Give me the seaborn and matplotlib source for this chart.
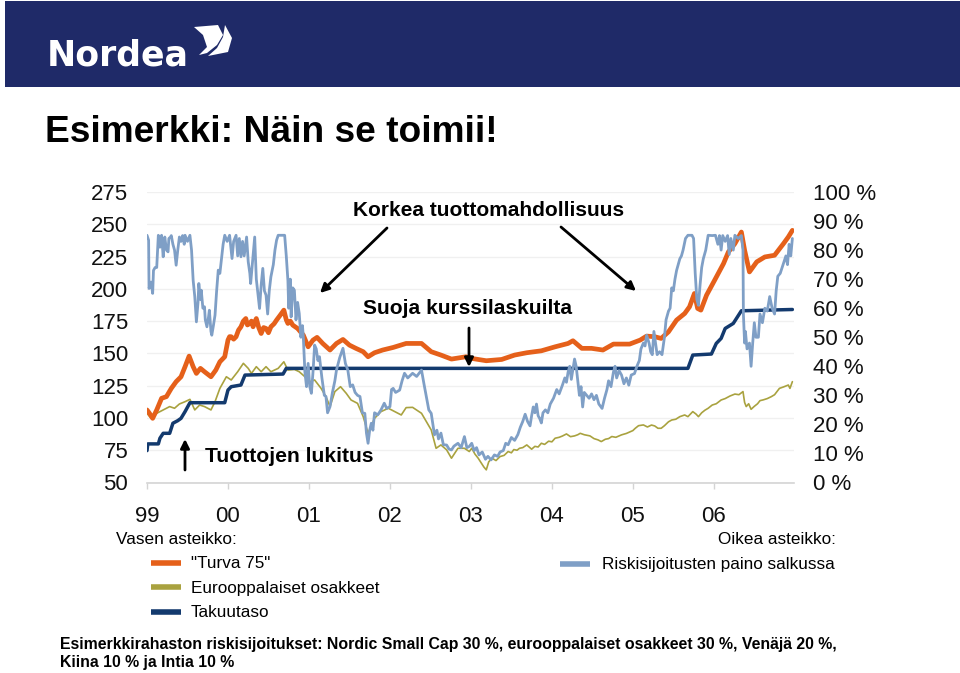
import matplotlib
matplotlib.use("Agg")
import matplotlib.pyplot as plt
from matplotlib.lines import Line2D
from matplotlib.patches import Polygon, Rectangle
import pandas as pd
import seaborn as sns

# x values are years since the start of 1999
x_turva = [0,.03,.07,.12,.18,.24,.30,.36,.42,.47,.52,.57,.61,.66,.71,.79,.85,.90,.96,
           1.00,1.02,1.04,1.07,1.10,1.13,1.16,1.19,1.22,1.24,1.27,1.29,1.31,1.33,1.35,1.38,1.41,1.44,1.47,1.50,1.53,1.57,1.60,1.65,1.69,1.72,1.74,1.77,1.80,
           1.86,1.93,1.99,2.05,2.10,2.17,2.26,2.34,2.42,2.50,2.58,2.67,2.73,2.81,2.91,3.04,3.20,3.39,3.51,3.63,3.76,3.94,
           4.01,4.19,4.38,4.54,4.69,4.87,5.04,5.20,5.26,5.37,5.49,5.63,5.76,5.86,5.96,6.09,6.17,6.27,6.35,6.44,6.54,6.64,6.70,6.76,6.80,6.84,6.91,7.01,7.12,7.18,7.26,7.34,7.38,7.44,7.53,7.63,7.75,7.86,7.92,7.97]
y_turva = [106.2,103.6,99.7,106.2,115.2,116.5,122.9,128.1,131.9,139.7,147.9,139.7,134.5,138.4,135.8,131.9,137.1,143.5,147.4,
           160.3,163,162.9,161,162.9,168,170.6,175,177,172,173.2,175,170.6,174,177,170,165.4,170,169.3,166,170.6,173,175.8,180,183.5,176,173.2,175,171.9,
           169.3,164.2,155.1,160.3,162.4,157.7,152.6,157.7,160.8,156.4,153.9,151.3,147.4,150.5,152.6,154.6,157.7,157.7,151.3,148.7,145.6,147.4,
           146.1,144.3,145.3,148.7,150.5,152,155.1,157.7,159.8,153.9,153.9,152.6,157.2,157.2,157.2,160.3,163.4,162.9,161.6,166.7,175.8,180.9,186.1,196.4,184.8,183.5,195.1,206.7,219.6,228.6,235,244,229.9,213.1,220.9,224.7,226,235,240.2,245.3]

x_euro = [0,.05,.12,.20,.28,.34,.40,.47,.53,.59,.65,.71,.79,.84,.90,.98,1.04,1.12,1.19,1.25,1.29,1.35,1.41,1.47,1.53,1.62,1.69,1.74,1.82,1.88,1.95,2.01,2.07,2.15,2.21,2.26,2.32,2.39,2.46,2.52,2.60,2.67,2.73,2.81,2.89,2.98,3.06,3.14,3.20,3.28,3.39,3.45,3.51,3.57,3.63,3.70,3.76,3.84,3.92,3.98,
          4.01,4.05,4.09,4.13,4.16,4.19,4.22,4.26,4.31,4.36,4.41,4.46,4.50,4.53,4.57,4.60,4.64,4.69,4.75,4.79,4.83,4.87,4.91,4.96,5.00,5.04,5.09,5.13,5.18,5.23,5.28,5.32,5.35,5.40,5.47,5.52,5.57,5.61,5.66,5.70,5.74,5.79,5.86,5.92,6.00,6.03,6.07,6.13,6.18,6.23,6.27,6.31,6.35,6.39,6.44,6.48,6.53,6.58,6.64,6.68,6.74,6.78,6.81,6.85,6.89,6.93,6.98,7.03,7.09,7.14,7.20,7.26,7.31,7.36,7.38,7.40,7.43,7.46,7.50,7.54,7.57,7.61,7.66,7.71,7.75,7.81,7.86,7.92,7.94,7.97]
y_euro = [103.6,99.7,103.6,106.2,108.8,107.5,110.8,112.6,114.4,106.2,110,108.8,106.2,112.6,122.9,131.9,129.4,135.8,142.3,138.4,134.5,139.7,135.8,139.7,135.8,138.4,143.5,137.1,137.6,135.8,131.9,128.1,129.4,122.9,116.5,108.8,120.4,124.2,119.1,113.9,111.3,101,88.1,99.7,104.9,107.5,104.9,102.3,108,108.2,103.6,97.2,90.7,76.5,79.1,75.3,68.8,76.5,76.5,74,
          76.5,72,68.8,65,62,59.8,66,68.8,67,70.1,71,74,73,75.5,75,76.5,77,79.1,75.8,78,77.5,80.4,79.5,82,81.5,84.3,85,86,87.6,85.5,86.1,87,88.1,87,86.1,84,83,81.7,83.5,84,85.6,85,86.9,88,90.2,92,94,94.6,93,94.5,93.8,92,92,94,97,98.4,99,101,102.3,101,104.9,103,101,104,106,107.5,110,111,113.9,115,117,118.5,118,120.4,112,108.8,111,106.7,109,111,113.4,114,115,116.5,118,122.9,124,125.5,122.9,128.1]

x_taku = [0,.01,.14,.16,.20,.28,.32,.38,.42,.47,.53,.96,1.00,1.04,1.16,1.21,1.68,1.72,6.68,6.74,6.97,7.03,7.09,7.14,7.24,7.34,7.97]
y_taku = [74.7,79.9,79.9,84.3,88.1,88.1,95.9,97.9,99.7,104.9,111.8,111.8,121.6,124.2,125.5,133.2,134,138.4,138.4,148.7,149.5,157.7,161.6,169.3,173.2,183,184]

x_riski = [0,.02,.025,.05,.07,.08,.10,.12,.14,.16,.18,.20,.21,.22,.24,.26,.27,.29,.30,.32,.34,.36,.38,.40,.42,.44,.46,.47,.50,.53,.55,.57,.59,.61,.63,.64,.66,.67,.69,.71,.72,.74,.76,.77,.79,.80,.82,.84,.86,.88,.90,.92,.94,.96,.99,
           1.02,1.04,1.05,1.07,1.10,1.12,1.14,1.16,1.18,1.20,1.23,1.25,1.27,1.28,1.30,1.33,1.35,1.37,1.39,1.41,1.43,1.45,1.47,1.49,1.51,1.53,1.56,1.58,1.60,1.62,1.70,1.72,1.74,1.75,1.77,1.78,1.80,1.82,1.84,1.86,1.88,1.90,1.92,1.93,1.95,1.97,1.99,
           2.01,2.03,2.05,2.07,2.09,2.11,2.13,2.16,2.19,2.21,2.23,2.26,2.29,2.32,2.34,2.38,2.42,2.45,2.48,2.51,2.54,2.57,2.60,2.63,2.66,2.69,2.71,2.73,2.75,2.77,2.79,2.81,2.85,2.89,2.93,2.96,
           3.00,3.02,3.04,3.07,3.12,3.15,3.18,3.22,3.28,3.33,3.39,3.42,3.45,3.48,3.51,3.53,3.55,3.58,3.60,3.63,3.66,3.70,3.73,3.76,3.79,3.84,3.88,3.92,3.95,3.98,
           4.01,4.04,4.07,4.10,4.14,4.18,4.21,4.25,4.29,4.33,4.36,4.40,4.43,4.46,4.50,4.54,4.58,4.61,4.64,4.67,4.70,4.73,4.75,4.77,4.79,4.81,4.83,4.85,4.87,4.89,4.92,4.95,4.98,
           5.02,5.06,5.09,5.13,5.16,5.18,5.20,5.22,5.24,5.26,5.28,5.30,5.32,5.34,5.36,5.38,5.40,5.43,5.46,5.49,5.52,5.55,5.58,5.62,5.65,5.68,5.70,5.73,5.76,5.78,5.80,5.83,5.86,5.89,5.92,5.95,5.98,
           6.02,6.05,6.08,6.10,6.13,6.15,6.17,6.20,6.22,6.24,6.26,6.28,6.30,6.33,6.36,6.39,6.41,6.44,6.46,6.48,6.50,6.52,6.54,6.56,6.58,6.60,6.62,6.65,6.68,6.73,6.75,6.77,6.79,6.81,6.83,6.85,6.87,6.90,6.93,6.98,
           7.02,7.05,7.07,7.09,7.11,7.14,7.17,7.19,7.21,7.24,7.26,7.30,7.34,7.36,7.365,7.38,7.39,7.41,7.44,7.46,7.48,7.50,7.52,7.55,7.57,7.60,7.63,7.66,7.69,7.72,7.75,7.77,7.79,7.82,7.86,7.89,7.91,7.93,7.95,7.97]
y_riski = [85.1,83.4,66.8,69,65.1,73,74,74,85.1,81,85.1,77.7,82,84.5,80,79.4,84,84.5,85,82,80,74.8,80,84.5,83,85,82,85.1,83,85.1,80,69.6,64,55.3,62,68.5,63,66.2,60,60.5,56,53.6,57,59.3,52,50.7,54,57.6,66,73.1,72,77.1,82,85.1,83,
           85.1,80,77.1,83,85.1,78,84,77.7,83,78,84.5,76,72,68.5,75,84.5,70,65,59.9,68,73.7,66,64.5,58,66,70.8,75,80,83.4,85.1,85.1,78,69.6,60,70,57,67,66.2,56,62,58.2,50,54,50.2,38,33,41,
           33,30.7,38,47.3,46,42,43.3,36,30,29.6,24,26.1,31,35,38.7,43,46.2,41,38.7,33,33.6,31,30,29.6,24,23.8,17,13.5,18,20.4,18,24,23.3,25,27.3,25.5,
           26.1,32,32.4,31,31.8,35,37.6,36,37.6,36.5,38.7,34,29.6,25,23.8,20,16.4,18,15,17,13,12.9,11.5,11.2,12.5,13.5,12,15.8,12,12.4,
           13.5,11,12,9.5,10.5,8,9,7.8,9.5,9,10.5,11,13.5,13,15.5,14.5,16.5,19,21,23.5,21,19.5,23,26,24,27,23,22,20.5,24,25,24,27,
           29,32,30.5,33.5,36,34.5,38,40,35.5,39,42.5,40,35,30,33,26,31,30,29,30.5,28.5,30,27,25.5,29,32,35,33,38,40,36,38.5,37,34,36,33.5,37,
           37.5,40,42,46,48,47,50.7,48,45,44,52,48,44,45,44,50,56,59,60,67,66,70,73,75,77,78,80,84,85.1,85.1,84,72,63,61,68,74,77,80,85.1,85,
           85.1,82,85,80,85,83,85,78.5,84,80,85.1,84,85,80,58,48,52,46,48,40,48,55,50,50,58,55,60,59,64,60,58,66,71,72,75.5,78,75,82,78,84]

year_ticks = [0, 1, 2, 3, 4, 5, 6, 7]
year_labels = ["99", "00", "01", "02", "03", "04", "05", "06"]
left_ticks = [50, 75, 100, 125, 150, 175, 200, 225, 250, 275]
right_ticks = [0, 10, 20, 30, 40, 50, 60, 70, 80, 90, 100]

ORANGE, OLIVE, NAVY, BLUE = "#E5601A", "#A9A23F", "#133A6E", "#7F9FC6"
W, H = 960, 673
FONT = "Liberation Sans"

sns.set_theme(style="white", rc={"font.family": FONT})
fig = plt.figure(figsize=(W / 100, H / 100), dpi=100, facecolor="white")

def fx(px): return px / W
def fy(py): return 1 - py / H

ax = fig.add_axes([fx(147), fy(482.5), fx(794) - fx(147), (482.5 - 192) / H])
ax.set_xlim(0, 7.99)
ax.set_ylim(50, 275)
ax.set_facecolor("none")

sns.lineplot(data=pd.DataFrame({"x": x_euro, "y": y_euro}), x="x", y="y", ax=ax, estimator=None, sort=False,
             color=OLIVE, lw=1.2, errorbar=None)
sns.lineplot(data=pd.DataFrame({"x": x_taku, "y": y_taku}), x="x", y="y", ax=ax, estimator=None, sort=False,
             color=NAVY, lw=2.5, errorbar=None)
sns.lineplot(data=pd.DataFrame({"x": x_turva, "y": y_turva}), x="x", y="y", ax=ax, estimator=None, sort=False,
             color=ORANGE, lw=3.4, errorbar=None)

ax.set_xticks(year_ticks, year_labels)
ax.set_yticks(left_ticks)
ax.set_xlabel("")
ax.set_ylabel("")
ax.grid(axis="y", color="#f0f0f0", lw=1)
ax.set_axisbelow(True)
for s in ("top", "left", "right"):
    ax.spines[s].set_visible(False)
ax.spines["bottom"].set_color("#d4d4d4")
ax.spines["bottom"].set_linewidth(1.2)
ax.tick_params(axis="x", length=4, width=1, color="#d4d4d4", labelsize=16, pad=13, labelcolor="#111111", bottom=True)
ax.tick_params(axis="y", length=0, labelsize=16, pad=13.5, labelcolor="#111111")

ax2 = ax.twinx()
ax2.set_ylim(0, 100)
sns.lineplot(data=pd.DataFrame({"x": x_riski, "y": y_riski}), x="x", y="y", ax=ax2, estimator=None, sort=False,
             color=BLUE, lw=2.0, errorbar=None)
ax2.set_yticks(right_ticks, [f"{v} %" for v in right_ticks])
ax2.set_ylabel("")
ax2.grid(False)
for s in ax2.spines.values():
    s.set_visible(False)
ax2.tick_params(axis="y", length=0, labelsize=16, pad=13.5, labelcolor="#111111")

# Header band, logo and title
fig.add_artist(Rectangle((fx(5), fy(87)), fx(955), 86 / H, transform=fig.transFigure, color="#1F2A68", lw=0))
fig.text(fx(47), fy(65), "Nordea", fontsize=25, color="white", family="DejaVu Sans", fontweight="bold", va="baseline")
for poly in ([(194, 27), (218, 25), (223, 35), (217, 45), (207, 53), (199, 55), (207, 47), (203, 35)],
             [(225, 25), (232, 38), (228, 52), (208, 56), (217, 48), (223, 37)]):
    fig.add_artist(Polygon([(fx(a), fy(b)) for a, b in poly], closed=True, transform=fig.transFigure, color="white", lw=0))
fig.text(fx(45), fy(133), "Esimerkki: Näin se toimii!", fontsize=26.7, fontweight="bold", color="black", va="center")

# Annotations
def label(px, py, s, **kw):
    fig.text(fx(px), fy(py), s, va="center", color="black", **kw)

label(353, 210, "Korkea tuottomahdollisuus", fontsize=15.05, fontweight="bold")
label(363, 309, "Suoja kurssilaskuilta", fontsize=15.15, fontweight="bold")
label(205, 457, "Tuottojen lukitus", fontsize=15.25, fontweight="bold")

def arrow(a, b):
    ax2.annotate("", xy=(fx(b[0]), fy(b[1])), xytext=(fx(a[0]), fy(a[1])), xycoords="figure fraction",
                 textcoords="figure fraction", arrowprops=dict(arrowstyle="-|>", color="black", lw=2, shrinkA=0, shrinkB=0, mutation_scale=13))

arrow((387, 228), (320, 293))
arrow((561, 227), (636, 291))
arrow((469, 328), (469, 367))
arrow((185, 470), (185, 439))

# Legend
label(116, 540, "Vasen asteikko:", fontsize=12.4)
for py, ty, colour, name in ((562.5, 563.5, ORANGE, '"Turva 75"'), (586.5, 588, OLIVE, "Eurooppalaiset osakkeet"), (611.5, 612.5, NAVY, "Takuutaso")):
    fig.add_artist(Line2D([fx(151), fx(181)], [fy(py), fy(py)], transform=fig.transFigure, color=colour, lw=4, solid_capstyle="butt"))
    label(191, ty, name, fontsize=12.3)
label(718, 539, "Oikea asteikko:", fontsize=12.3)
fig.add_artist(Line2D([fx(560), fx(590)], [fy(564), fy(564)], transform=fig.transFigure, color=BLUE, lw=4, solid_capstyle="butt"))
label(602, 564, "Riskisijoitusten paino salkussa", fontsize=12.3)

# Footer
label(60, 645, "Esimerkkirahaston riskisijoitukset: Nordic Small Cap 30 %, eurooppalaiset osakkeet 30 %, Venäjä 20 %,", fontsize=11.45, fontweight="bold")
label(60, 663, "Kiina 10 % ja Intia 10 %", fontsize=11.45, fontweight="bold")

fig.savefig("out.png", dpi=100, facecolor="white")
